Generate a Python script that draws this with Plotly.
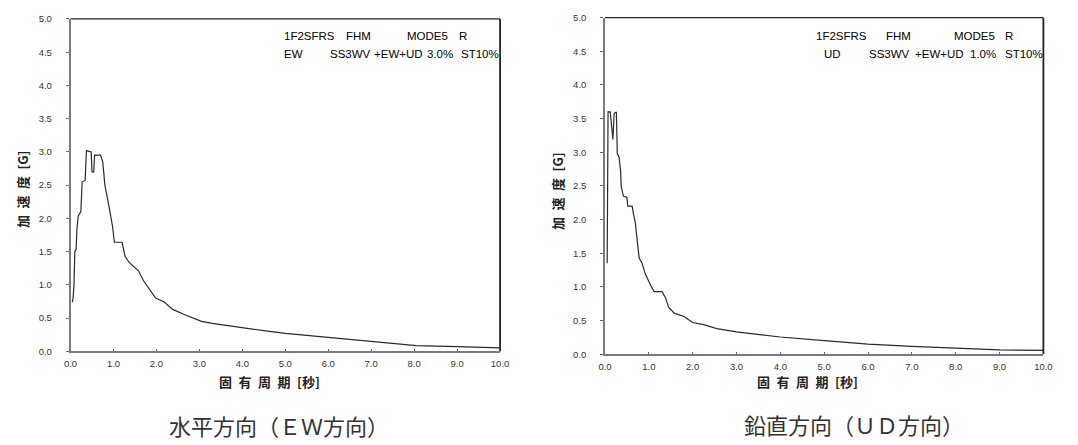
import plotly.graph_objects as go

W, H = 1078, 445

# ---- data ----
ew_period = [0.04, 0.06, 0.08, 0.10, 0.13, 0.15, 0.18, 0.24, 0.27, 0.34, 0.37, 0.48, 0.50, 0.54,
             0.56, 0.70, 0.75, 0.80, 0.90, 0.98, 1.02, 1.20, 1.27, 1.36, 1.46, 1.58, 1.70, 1.78,
             1.98, 2.18, 2.38, 2.66, 3.05, 3.30, 3.90, 4.50, 5.00, 5.50, 6.00, 6.60, 7.00, 7.50,
             8.05, 9.00, 10.00]
ew_accel = [0.74, 0.80, 1.00, 1.50, 1.53, 1.85, 2.04, 2.10, 2.55, 2.57, 3.02, 3.00, 2.70, 2.70,
            2.95, 2.95, 2.85, 2.50, 2.16, 1.87, 1.64, 1.64, 1.43, 1.34, 1.28, 1.21, 1.06, 0.99,
            0.80, 0.74, 0.63, 0.55, 0.45, 0.42, 0.36, 0.31, 0.27, 0.24, 0.20, 0.17, 0.15, 0.12,
            0.085, 0.07, 0.05]

ud_period = [0.05, 0.07, 0.12, 0.18, 0.21, 0.26, 0.28, 0.32, 0.355, 0.37, 0.42, 0.50, 0.52,
             0.62, 0.645, 0.69, 0.73, 0.78, 0.84, 0.92, 1.03, 1.12, 1.30, 1.38, 1.45, 1.58,
             1.80, 2.00, 2.25, 2.55, 3.00, 3.50, 4.00, 5.00, 6.00, 7.00, 8.00, 9.00, 10.00]
ud_accel = [1.35, 3.60, 3.60, 3.19, 3.58, 3.60, 2.98, 2.93, 2.73, 2.49, 2.35, 2.33, 2.20,
            2.20, 2.10, 1.96, 1.72, 1.43, 1.36, 1.19, 1.04, 0.93, 0.93, 0.84, 0.70, 0.61,
            0.56, 0.47, 0.44, 0.38, 0.33, 0.29, 0.255, 0.20, 0.15, 0.115, 0.09, 0.065, 0.055]

y_ticks = [0.0, 0.5, 1.0, 1.5, 2.0, 2.5, 3.0, 3.5, 4.0, 4.5, 5.0]
x_ticks = [0, 1, 2, 3, 4, 5, 6, 7, 8, 9, 10]
y_tick_labels = ["%.1f" % v for v in y_ticks]
x_tick_labels = ["%.1f" % v for v in x_ticks]

ew_header = [("1F2SFRS", 279.5, 31), ("FHM", 341.7, 31), ("MODE5", 404.3, 31), ("R", 456.7, 31),
             ("EW", 279.5, 49.5), ("SS3WV", 325.7, 49.5), ("+EW+UD", 370, 49.5),
             ("3.0%", 424, 49.5), ("ST10%", 459.3, 49.5)]
ud_header = [("1F2SFRS", 819.3, 31), ("FHM", 890, 31), ("MODE5", 959.3, 31), ("R", 1011, 31),
             ("UD", 827.3, 49.5), ("SS3WV", 873.3, 49.5), ("+EW+UD", 920, 49.5),
             ("1.0%", 975, 49.5), ("ST10%", 1011, 49.5)]

y_title = "加\u2002速\u2002度\u2002[G]"
x_title = "固\u2002有\u2002周\u2002期\u2002[秒]"
caption_ew = "水平方向（ＥＷ方向）"
caption_ud = "鉛直方向（ＵＤ方向）"

# ---- layout geometry in pixels ----
L1 = (64.5, 500.5, 13.3, 354.0)   # left, right, top, bottom
L2 = (607.0, 1052.0, 12.0, 357.0)

def px(x):
    return x / W

def py(y):
    return 1 - y / H

fig = go.Figure()
line_style = dict(color="#2a2a2a", width=1.2)
fig.add_trace(go.Scatter(x=ew_period, y=ew_accel, mode="lines", line=line_style,
                         xaxis="x", yaxis="y", showlegend=False))
fig.add_trace(go.Scatter(x=ud_period, y=ud_accel, mode="lines", line=line_style,
                         xaxis="x2", yaxis="y2", showlegend=False))

tick_font = dict(family="Liberation Sans, Arial, sans-serif", size=9.5, color="#333333")

def xaxis(dom, anchor):
    return dict(domain=[px(dom[0]), px(dom[1])], anchor=anchor, range=[0, 10],
                tickvals=x_ticks, ticktext=x_tick_labels, ticks="inside", ticklen=2,
                tickcolor="#666666", tickwidth=1, showline=True, linecolor="#7a7a7a",
                linewidth=1.5, showgrid=False, zeroline=False, tickfont=tick_font,
                ticklabelstandoff=3, fixedrange=True)

def yaxis(dom, anchor):
    return dict(domain=[py(dom[3]), py(dom[2])], anchor=anchor, range=[0, 5],
                tickvals=y_ticks, ticktext=y_tick_labels, ticks="outside", ticklen=3,
                tickcolor="#666666", tickwidth=1, showline=True, linecolor="#7a7a7a",
                linewidth=1.5, showgrid=False, zeroline=False, tickfont=tick_font,
                ticklabelstandoff=12, fixedrange=True)

annotations = []
hdr_font = dict(family="Liberation Sans, Arial, sans-serif", size=11.5, color="#000000")
for txt, x, y in ew_header + ud_header:
    annotations.append(dict(text=txt, x=px(x), y=py(y), xref="paper", yref="paper",
                            xanchor="left", yanchor="middle", showarrow=False, font=hdr_font))

title_font = dict(family="Noto Sans CJK JP, sans-serif", size=13, color="#222222", weight="bold")
for cx, cy in [(266, 385), (813, 385)]:
    annotations.append(dict(text=x_title, x=px(cx), y=py(cy), xref="paper", yref="paper",
                            xanchor="center", yanchor="middle", showarrow=False, font=title_font))
for cx, cy in [(16, 188), (559, 190)]:
    annotations.append(dict(text=y_title, x=px(cx), y=py(cy), xref="paper", yref="paper",
                            xanchor="center", yanchor="middle", showarrow=False,
                            textangle=-90, font=title_font))

cap_font = dict(family="Noto Sans CJK JP, sans-serif", size=22, color="#333333")
annotations.append(dict(text=caption_ew, x=px(276), y=py(430), xref="paper", yref="paper",
                        xanchor="center", yanchor="middle", showarrow=False, font=cap_font))
annotations.append(dict(text=caption_ud, x=px(860), y=py(429), xref="paper", yref="paper",
                        xanchor="center", yanchor="middle", showarrow=False, font=cap_font))

shapes = []
for xr, yr in [("x", "y"), ("x2", "y2")]:
    shapes.append(dict(type="line", xref=xr + " domain", yref=yr + " domain",
                       x0=0, x1=1, y0=1, y1=1, line=dict(color="#222222", width=1.3)))
    shapes.append(dict(type="line", xref=xr + " domain", yref=yr + " domain",
                       x0=1, x1=1, y0=0, y1=1, line=dict(color="#222222", width=1.8)))

fig.update_layout(
    width=W, height=H, margin=dict(l=0, r=0, t=0, b=0),
    paper_bgcolor="white", plot_bgcolor="white",
    xaxis=xaxis(L1, "y"), yaxis=yaxis(L1, "x"),
    xaxis2=xaxis(L2, "y2"), yaxis2=yaxis(L2, "x2"),
    annotations=annotations, shapes=shapes, showlegend=False,
)

fig.write_html("out.html", config={"displayModeBar": False},
               post_script="document.body.style.margin='0';document.body.style.padding='0';")
